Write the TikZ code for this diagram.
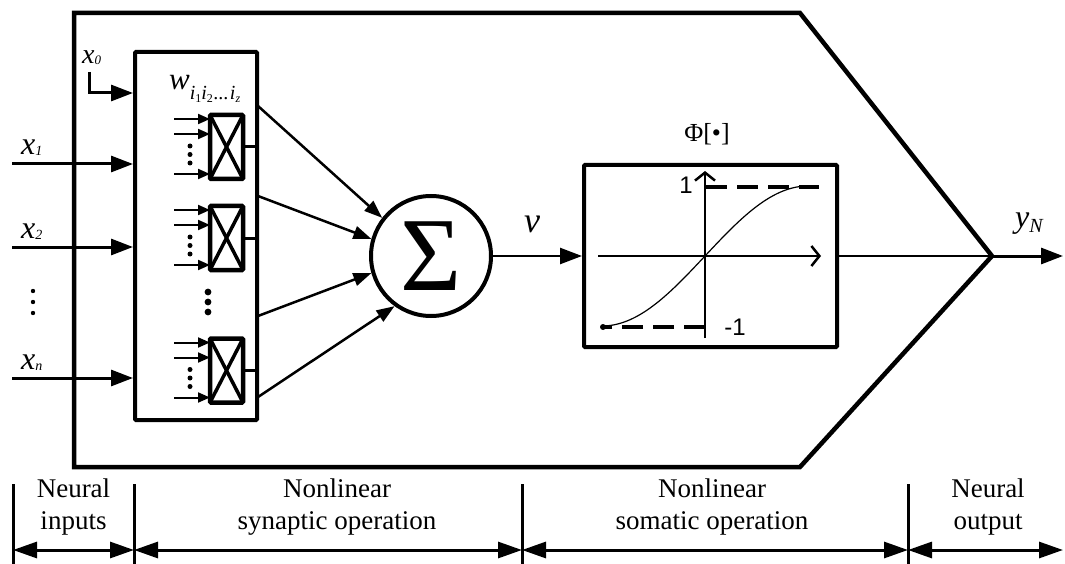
\documentclass[tikz,border=0pt]{standalone}
\usepackage{fontspec}
\setmainfont{Liberation Serif}
\newfontfamily\labelsans{Liberation Sans}
\usetikzlibrary{arrows.meta,calc}

\tikzset{
  frame/.style={line width=4.5pt, line join=miter},
  blockbox/.style={draw, rectangle, line width=4pt, inner sep=0pt, rounded corners=1pt},
  mulbox/.style={draw, rectangle, line width=4.5pt, outer sep=0pt, inner sep=0pt,
    minimum width=33pt, minimum height=64pt, rounded corners=1pt},
  cross/.style={line width=3.5pt},
  stub/.style={line width=3pt},
  inarrow/.style={line width=3pt, -{Triangle[length=22pt,width=16pt]}},
  smallarrow/.style={line width=2pt, -{Triangle[length=12pt,width=10pt]}},
  sumarrow/.style={line width=2.5pt, -{Triangle[length=18pt,width=13pt]}},
  wire/.style={line width=2.5pt},
  axis/.style={line width=2.5pt, -{Straight Barb[length=8pt,width=20pt]}},
  limit/.style={line width=4.5pt, dash pattern=on 21pt off 10pt},
  dimline/.style={line width=3pt, {Triangle[length=24pt,width=16pt]}-{Triangle[length=24pt,width=16pt]}},
  tick/.style={line width=3pt},
  partlabel/.style={font=\fontsize{27}{32}\selectfont, align=center, inner sep=0pt, anchor=north},
  varlabel/.style={inner sep=0pt, anchor=base west},
}

\begin{document}
\begin{tikzpicture}[x=1pt,y=-1pt]
\useasboundingbox (0,0) rectangle (1065,564);

% neuron outline
\coordinate (tl) at (74,13);
\coordinate (tr) at (800,13);
\coordinate (tip) at (992,256);
\coordinate (br) at (800,467);
\coordinate (bl) at (74,467);
\draw[frame] (tl) -- (tr) -- (tip) -- (br) -- (bl) -- cycle;

% synaptic block
\node[blockbox, minimum width=122pt, minimum height=368pt] (syn) at (196,236) {};

% bias input x0
\coordinate (x0a) at (89,72);
\coordinate (x0turn) at (89,93);
\draw[inarrow] (x0a) -- (x0turn) -- (x0turn -| syn.west);
\node[varlabel] (lx0) at (82,64) {\fontsize{28}{28}\selectfont\itshape x\raisebox{-1pt}{\fontsize{13}{13}\selectfont 0}};

% neural inputs
\coordinate (x1in) at (12,164);
\coordinate (x2in) at (12,247);
\coordinate (xnin) at (12,378);
\draw[inarrow] (x1in) -- (x1in -| syn.west);
\draw[inarrow] (x2in) -- (x2in -| syn.west);
\draw[inarrow] (xnin) -- (xnin -| syn.west);
\node[varlabel] (lx1) at (21,155) {\fontsize{32}{32}\selectfont\itshape x\raisebox{-1pt}{\fontsize{14}{14}\selectfont 1}};
\node[varlabel] (lx2) at (21,238) {\fontsize{32}{32}\selectfont\itshape x\raisebox{-1pt}{\fontsize{14}{14}\selectfont 2}};
\node[varlabel] (lxn) at (21,369) {\fontsize{32}{32}\selectfont\itshape x\raisebox{-1pt}{\fontsize{14}{14}\selectfont n}};
\foreach \y in {291,302,313} \fill (33,\y) circle (2.2pt);

% weight label
\node[varlabel] (lw) at (169,90) {\fontsize{31}{31}\selectfont\itshape w\raisebox{-10pt}{\fontsize{20}{20}\selectfont
  i\raisebox{-3pt}{\fontsize{12}{12}\selectfont\upshape 1}i\raisebox{-3pt}{\fontsize{12}{12}\selectfont\upshape 2}\kern1pt...\kern1pt i\raisebox{-3pt}{\fontsize{12}{12}\selectfont z}}};

% multiplier cells
\foreach \name/\cy in {m1/147, m2/238, m3/370.5} {
  \node[mulbox] (\name) at (226.5,\cy) {};
  \draw[cross] (\name.north west) -- (\name.south east);
  \draw[cross] (\name.north east) -- (\name.south west);
  \draw[stub] (\name.east) -- (\name.east -| syn.east);
  \foreach \d in {-28,-13,27}
    \draw[smallarrow] ($(\name.west)+(-36,\d)$) -- ($(\name.west)+(0,\d)$);
  \foreach \d in {-1,7.5,16}
    \fill ($(\name.west)+(-20,\d)$) circle (2.5pt);
}
\foreach \y in {292,302,312} \fill (208,\y) circle (3.4pt);

% summing junction
\node[draw, circle, line width=4pt, minimum size=120pt, inner sep=0pt,
      font=\fontsize{105}{105}\selectfont] (sig) at (431,256) {Σ};
\coordinate (s1) at (258,106);
\coordinate (s2) at (258,196);
\coordinate (s3) at (258,316);
\coordinate (s4) at (258,397);
\draw[sumarrow] (s1) -- (sig.142);
\draw[sumarrow] (s2) -- (sig.164);
\draw[sumarrow] (s3) -- (sig.196);
\draw[sumarrow] (s4) -- (sig.234);
\node[varlabel, anchor=base] (lv) at (532,233) {\fontsize{36}{36}\selectfont\itshape v};

% activation block
\node[blockbox, minimum width=253pt, minimum height=182pt] (phi) at (710.5,256) {};
\draw[wire, -{Triangle[length=22pt,width=16pt]}] (sig) -- (phi);
\node[inner sep=0pt, anchor=base] (lphi) at (707,142) {\fontsize{26}{26}\selectfont Φ[•]};

\coordinate (vbot) at (705,338);
\coordinate (vtop) at (705,171);
\coordinate (hleft) at (598,256);
\coordinate (hright) at (821,256);
\draw[axis] (vbot) -- (vtop);
\draw[axis] (hleft) -- (hright);
\coordinate (uplo) at (706,187);
\coordinate (uphi) at (819,187);
\coordinate (lohi) at (705,327);
\coordinate (lolo) at (603,327);
\draw[limit] (uplo) -- (uphi);
\draw[limit] (lohi) -- (lolo);
\fill (lolo) circle (3pt);
\draw[line width=1.2pt] plot[domain=-102:105, samples=90] ({705+\x}, {256-70*sin(90*\x/103)});
\node[inner sep=0pt] (lone) at (686,185) {\labelsans\fontsize{24}{24}\selectfont 1};
\node[inner sep=0pt] (lmone) at (735,327) {\labelsans\fontsize{24}{24}\selectfont -1};

% neural output
\coordinate (yend) at (1063,256);
\draw[wire] (phi) -- (tip);
\draw[inarrow] (tip) -- (yend);
\node[varlabel] (ly) at (1015,227) {\fontsize{32}{32}\selectfont\itshape y\raisebox{-5pt}{\fontsize{20}{20}\selectfont N}};

% stage dimensions
\foreach \n/\x in {0/13, 1/134, 2/522, 3/908} {
  \coordinate (t\n) at (\x,484);
  \coordinate (d\n) at (\x,550);
  \draw[tick] (t\n) -- (\x,564);
}
\coordinate (d4) at (1063,550);
\draw[dimline] (d0) -- (d1);
\draw[dimline] (d1) -- (d2);
\draw[dimline] (d2) -- (d3);
\draw[dimline] (d3) -- (d4);

\node[partlabel] (p1) at (73.5,479) {Neural\\inputs};
\node[partlabel] (p2) at (337,479) {Nonlinear\\synaptic operation};
\node[partlabel] (p3) at (712,479) {Nonlinear\\somatic operation};
\node[partlabel] (p4) at (988,479) {Neural\\output};
\end{tikzpicture}
\end{document}
